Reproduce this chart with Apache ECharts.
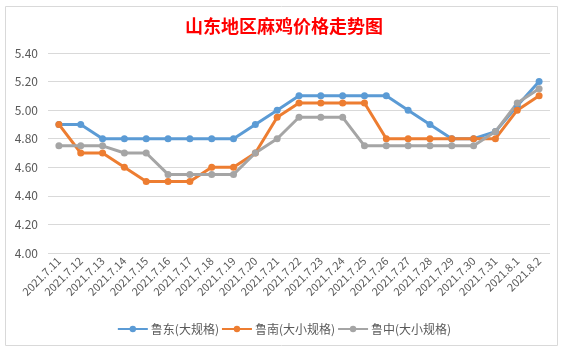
<!DOCTYPE html>
<html>
<head>
    <meta charset="utf-8">
    <title>山东地区麻鸡价格走势图</title>
    <script src="https://cdn.jsdelivr.net/npm/echarts@6/dist/echarts.min.js"></script>
    <style>
        html, body { margin: 0; padding: 0; background: #fff; }
    </style>
</head>
<body>
    <div id="main" style="width: 568px;height:354px;"></div>
    <script type="text/javascript">
        // 日期
        var dates = ['2021.7.11', '2021.7.12', '2021.7.13', '2021.7.14', '2021.7.15', '2021.7.16',
            '2021.7.17', '2021.7.18', '2021.7.19', '2021.7.20', '2021.7.21', '2021.7.22',
            '2021.7.23', '2021.7.24', '2021.7.25', '2021.7.26', '2021.7.27', '2021.7.28',
            '2021.7.29', '2021.7.30', '2021.7.31', '2021.8.1', '2021.8.2'];
        // 三个地区价格
        var ludong = [4.90, 4.90, 4.80, 4.80, 4.80, 4.80, 4.80, 4.80, 4.80, 4.90, 5.00, 5.10,
            5.10, 5.10, 5.10, 5.10, 5.00, 4.90, 4.80, 4.80, 4.85, 5.03, 5.20];
        var lunan = [4.90, 4.70, 4.70, 4.60, 4.50, 4.50, 4.50, 4.60, 4.60, 4.70, 4.95, 5.05,
            5.05, 5.05, 5.05, 4.80, 4.80, 4.80, 4.80, 4.80, 4.80, 5.00, 5.10];
        var luzhong = [4.75, 4.75, 4.75, 4.70, 4.70, 4.55, 4.55, 4.55, 4.55, 4.70, 4.80, 4.95,
            4.95, 4.95, 4.75, 4.75, 4.75, 4.75, 4.75, 4.75, 4.85, 5.05, 5.15];
        var names = ['鲁东(大规格)', '鲁南(大小规格)', '鲁中(大小规格)'];
        var colors = ['#5B9BD5', '#ED7D31', '#A5A5A5'];

        var myChart = echarts.init(document.getElementById('main'));

        function line(name, data, color) {
            return {
                name: name,
                type: 'line',
                data: data,
                symbol: 'circle',
                symbolSize: 7,
                lineStyle: { width: 3, color: color },
                itemStyle: { color: color },
                animation: false
            };
        }

        var option = {
            textStyle: { fontFamily: '"Noto Sans CJK SC", sans-serif' },
            graphic: [{
                type: 'rect',
                shape: { x: 5.5, y: 6.5, width: 552, height: 339 },
                style: { fill: 'none', stroke: '#D9D9D9', lineWidth: 1 }
            }],
            title: {
                text: '山东地区麻鸡价格走势图',
                left: 'center',
                top: 12,
                textStyle: { color: '#FF0000', fontSize: 18, fontWeight: 'bold' }
            },
            legend: {
                data: names,
                bottom: 14,
                left: 'center',
                itemWidth: 30,
                itemHeight: 8,
                itemGap: 2,
                textStyle: { color: '#595959', fontSize: 12, padding: [0, 0, 0, -2] }
            },
            grid: { left: 48, right: 18, top: 53, bottom: 101 },
            xAxis: {
                type: 'category',
                data: dates,
                boundaryGap: true,
                axisLine: { show: false },
                axisTick: { show: false },
                axisLabel: { rotate: 45, interval: 0, color: '#595959', fontSize: 11, margin: 6 }
            },
            yAxis: {
                type: 'value',
                min: 4,
                max: 5.4,
                interval: 0.2,
                axisLine: { show: false },
                axisTick: { show: false },
                axisLabel: {
                    color: '#595959', fontSize: 12, margin: 10,
                    formatter: function (v) { return v.toFixed(2); }
                },
                splitLine: { lineStyle: { color: '#D9D9D9' } }
            },
            series: [
                line(names[0], ludong, colors[0]),
                line(names[1], lunan, colors[1]),
                line(names[2], luzhong, colors[2])
            ]
        };

        myChart.setOption(option);
    </script>
</body>
</html>
